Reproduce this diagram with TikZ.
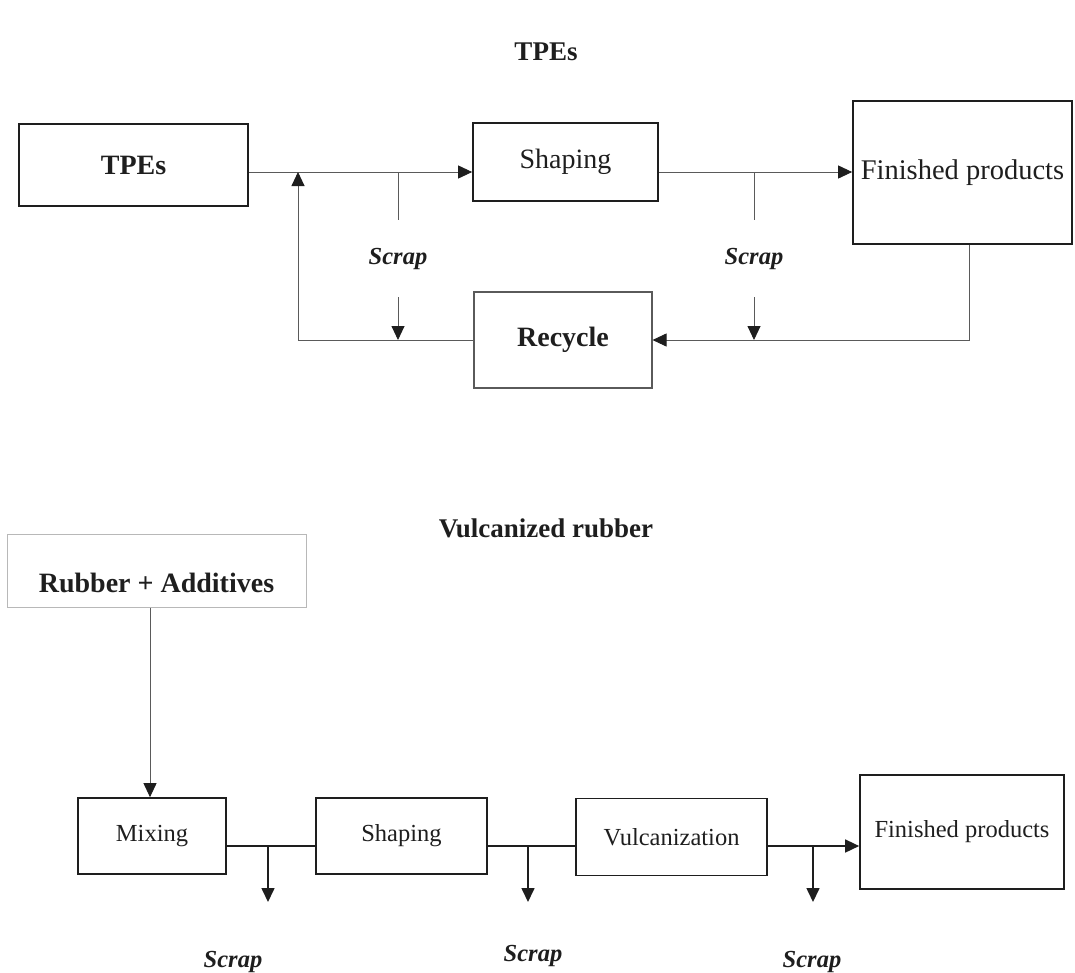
\documentclass[tikz,border=0pt]{standalone}
\usepackage{fontspec}
\setmainfont{Liberation Serif}
\usetikzlibrary{arrows.meta,calc}
\definecolor{ink}{HTML}{1E1E1E}
\definecolor{thin}{HTML}{5A5A5A}
\definecolor{faint}{HTML}{B8B8B8}
\begin{document}
\begin{tikzpicture}[x=1pt,y=-1pt,
  box/.style={draw=ink, line width=1.7pt, inner sep=0pt, text=ink, align=center},
  conn/.style={draw=thin, line width=0.9pt},
  conb/.style={draw=ink, line width=1.6pt},
  tip/.style={-{Triangle[length=14pt,width=13pt,color=ink]}},
  ttl/.style={text=ink, font=\bfseries\fontsize{27}{30}\selectfont},
  bigb/.style={font=\bfseries\fontsize{28}{30}\selectfont},
  bigr/.style={font=\fontsize{28}{30}\selectfont},
  smr/.style={font=\fontsize{24.5}{27}\selectfont},
  scrap/.style={text=ink, font=\bfseries\itshape\fontsize{24.5}{27}\selectfont}
]
\useasboundingbox (0,0) rectangle (1075,972);

% ---------- TPEs ----------
\node[ttl] (t1) at (546,52) {TPEs};
\node[box, bigb, minimum width=229pt, minimum height=82pt] (tpes) at (133.5,165) {TPEs};
\node[box, bigr, minimum width=185pt, minimum height=78pt] (shp1) at (565.5,162) {Shaping};
\node[box, bigr, minimum width=219pt, minimum height=143pt, font=\fontsize{28.5}{30}\selectfont] (fin1) at (962.5,172.5) {Finished products};
\node[box, bigb, draw=thin, line width=1.1pt, minimum width=178pt, minimum height=96pt] (rec) at (563,340) {Recycle};

\coordinate (j1) at (298,172);
\coordinate (r1) at (298,340);
\coordinate (s1) at (398,172);
\coordinate (s1b) at (398,220);
\coordinate (s1c) at (398,297);
\coordinate (s1d) at (398,340);
\coordinate (s2) at (754,172);
\coordinate (s2b) at (754,220);
\coordinate (s2c) at (754,297);
\coordinate (s2d) at (754,340);
\coordinate (f1) at (969,340);

\draw[conn, tip] (tpes.east |- j1) -- (shp1.west |- j1);
\draw[conn, tip] (rec.west) -- (r1) -- (j1);
\draw[conn] (s1) -- (s1b);
\node[scrap] (sc1) at (398,259) {Scrap};
\draw[conn, tip] (s1c) -- (s1d);

\draw[conn, tip] (shp1.east |- j1) -- (fin1.west |- j1);
\draw[conn] (s2) -- (s2b);
\node[scrap] (sc2) at (754,259) {Scrap};
\draw[conn, tip] (s2c) -- (s2d);
\draw[conn, tip] (fin1.south -| f1) -- (f1) -- (rec.east);

% ---------- Vulcanized rubber ----------
\node[ttl] (t2) at (546,528) {Vulcanized rubber};
\node[box, bigb, draw=faint, line width=1pt, minimum width=299pt, minimum height=73pt] (rub) at (156.5,570.5) {\raisebox{-12pt}[\height][\depth]{Rubber + Additives}};
\node[box, smr, minimum width=148pt, minimum height=76pt] (mix) at (152,836) {Mixing};
\node[box, smr, minimum width=171pt, minimum height=76pt] (shp2) at (401.5,836) {Shaping};
\node[box, smr, minimum width=191pt, minimum height=77pt] (vul) at (671.5,837) {Vulcanization};
\node[box, smr, minimum width=204pt, minimum height=114pt] (fin2) at (962,832) {Finished products};

\coordinate (m) at (0,846);
\coordinate (ra) at (150,0);
\coordinate (b1) at (268,846);
\coordinate (b1e) at (268,902);
\coordinate (b2) at (528,846);
\coordinate (b2e) at (528,902);
\coordinate (b3) at (813,846);
\coordinate (b3e) at (813,902);

\draw[conn, tip] (rub.south -| ra) -- (mix.north -| ra);
\draw[conb] (mix.east |- m) -- (shp2.west |- m);
\draw[conb] (shp2.east |- m) -- (vul.west |- m);
\draw[conb, tip] (vul.east |- m) -- (fin2.west |- m);
\draw[conb, tip] (b1) -- (b1e);
\draw[conb, tip] (b2) -- (b2e);
\draw[conb, tip] (b3) -- (b3e);

\node[scrap] (sc3) at (233,962) {Scrap};
\node[scrap] (sc4) at (533,956) {Scrap};
\node[scrap] (sc5) at (812,962) {Scrap};
\end{tikzpicture}
\end{document}
